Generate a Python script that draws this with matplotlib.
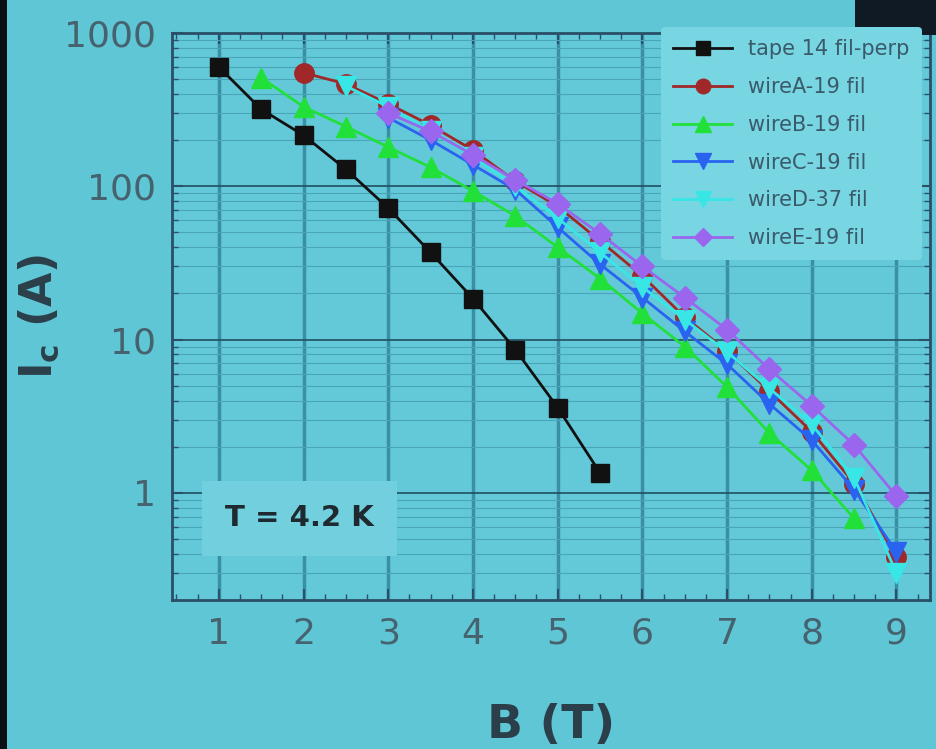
import numpy as np
import matplotlib
matplotlib.use('Agg')
from matplotlib import pyplot as plt
from matplotlib.patches import Rectangle
from matplotlib.ticker import MultipleLocator, LogLocator, NullFormatter, FixedLocator

# data
b_tape = [1, 1.5, 2, 2.5, 3, 3.5, 4, 4.5, 5, 5.5]
ic_tape = [600, 318, 215, 129, 72, 37, 18.5, 8.6, 3.6, 1.35]

b_a = [2, 2.5, 3, 3.5, 4, 4.5, 5, 5.5, 6, 6.5, 7, 7.5, 8, 8.5, 9]
ic_a = [550, 465, 345, 250, 172, 108, 74, 44, 26, 14, 8.4, 4.6, 2.5, 1.15, 0.38]

b_b = [1.5, 2, 2.5, 3, 3.5, 4, 4.5, 5, 5.5, 6, 6.5, 7, 7.5, 8, 8.5]
ic_b = [510, 330, 245, 180, 133, 93, 64, 40, 25, 14.8, 9.0, 4.9, 2.45, 1.4, 0.68]

b_c = [3, 3.5, 4, 4.5, 5, 5.5, 6, 6.5, 7, 7.5, 8, 8.5, 9]
ic_c = [280, 200, 138, 95, 54, 31, 18.8, 11.3, 6.9, 3.8, 2.2, 1.05, 0.41]

b_d = [2.5, 3, 3.5, 4, 4.5, 5, 5.5, 6, 6.5, 7, 7.5, 8, 8.5, 9]
ic_d = [450, 330, 230, 155, 100, 62, 37, 22, 13.5, 8.3, 4.8, 2.8, 1.25, 0.30]

b_e = [3, 3.5, 4, 4.5, 5, 5.5, 6, 6.5, 7, 7.5, 8, 8.5, 9]
ic_e = [300, 228, 160, 110, 77, 49, 30, 18.8, 11.6, 6.4, 3.7, 2.05, 0.95]

series = [
    (b_tape, ic_tape, 'tape 14 fil-perp', '#111111', 's', 13),
    (b_a, ic_a, 'wireA-19 fil', '#a02828', 'o', 14),
    (b_b, ic_b, 'wireB-19 fil', '#22e03a', '^', 15),
    (b_c, ic_c, 'wireC-19 fil', '#2a63f0', 'v', 15),
    (b_d, ic_d, 'wireD-37 fil', '#38e6e6', 'v', 15),
    (b_e, ic_e, 'wireE-19 fil', '#9a66ee', 'D', 12),
]

bg = '#5fc6d6'
fig = plt.figure(figsize=(9.36, 7.49), dpi=100, facecolor=bg)
ax = fig.add_axes([0.184, 0.199, 0.81, 0.757], facecolor='#63c9d9')

for x, y, lab, col, m, ms in series:
    ax.plot(x, y, color=col, marker=m, ms=ms, lw=2, label=lab, zorder=3)

ax.set_yscale('log')
ax.set_ylim(0.2, 1000)
ax.set_xlim(0.45, 9.4)
ax.xaxis.set_major_locator(FixedLocator(range(1, 10)))
ax.xaxis.set_minor_locator(MultipleLocator(0.25))
ax.yaxis.set_minor_locator(LogLocator(base=10, subs=np.arange(2, 10), numticks=20))
ax.yaxis.set_minor_formatter(NullFormatter())
ax.set_yticks([1, 10, 100, 1000])
ax.set_yticklabels(['1', '10', '100', '1000'])

ax.grid(True, which='major', axis='x', color='#3a8fa4', lw=2.5)
ax.grid(True, which='major', axis='y', color='#1f4f60', lw=1.2)
ax.grid(True, which='minor', axis='y', color='#4aa5b8', lw=0.8)
ax.tick_params(which='both', direction='in', top=True, right=True, colors='#2a4f66')
ax.tick_params(which='major', length=8, width=1.5, labelsize=26, labelcolor='#46626e', pad=12)
ax.tick_params(which='minor', length=4, width=1)
for s in ax.spines.values():
    s.set_color('#2a4f66')
    s.set_linewidth(2)

ax.set_xlabel('B (T)', fontsize=34, fontweight='bold', color='#2b3f4a', labelpad=38)
ax.set_ylabel(r'$\mathbf{I_c}$ (A)', fontsize=32, fontweight='bold', color='#2b3f4a', labelpad=2)

ax.text(0.07, 0.13, 'T = 4.2 K', transform=ax.transAxes, fontsize=21, fontweight='bold',
        color='#1e2a30',
        bbox=dict(boxstyle='square,pad=0.8', facecolor='#72d0de', edgecolor='none'))

leg = fig.legend(loc='upper left', bbox_to_anchor=(0.695, 0.978), fontsize=15,
                 frameon=True, facecolor='#78d5e2', edgecolor='none', framealpha=1,
                 labelcolor='#3a5a6a', handlelength=2.8, borderpad=0.6, labelspacing=0.85,
                 markerscale=0.75)

fig.patches.append(Rectangle((0.913, 0.953), 0.09, 0.05, transform=fig.transFigure,
                             facecolor='#0f1a24', edgecolor='none', zorder=5))
fig.patches.append(Rectangle((0, 0), 0.008, 1, transform=fig.transFigure,
                             facecolor='#0a1014', edgecolor='none', zorder=5))

plt.savefig('out.png', dpi=100, facecolor=bg)
